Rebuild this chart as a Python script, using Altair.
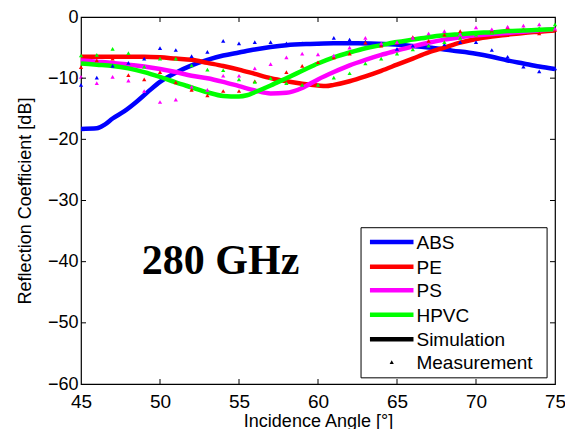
import altair as alt
import pandas as pd

materials = ["ABS", "PE", "PS", "HPVC"]
colors = ["#0000ff", "#ff0000", "#ff00ff", "#00ff00"]

# Simulation curves (x in degrees, y in dB)
abs_sim_x = [45, 46, 46.5, 47, 47.75, 48.5, 49.25, 50, 51, 52, 53, 54, 55, 56, 57, 58, 59.5, 61, 62.5, 64.2, 65.5, 67, 68.5, 70, 71, 72, 73, 74, 75]
abs_sim_y = [-18.3, -18.2, -17.6, -16.6, -15.4, -13.9, -12.2, -10.6, -9.1, -7.9, -7.0, -6.3, -5.8, -5.3, -4.9, -4.6, -4.4, -4.3, -4.3, -4.4, -4.6, -5.0, -5.5, -6.0, -6.5, -7.1, -7.6, -8.1, -8.5]

pe_sim_x = [45, 47, 49, 50, 51, 52, 53, 54, 55, 56, 57, 58, 59, 60, 60.5, 61, 62, 63, 64, 65, 66, 67, 68, 69, 70, 71, 72, 73, 74, 75]
pe_sim_y = [-6.5, -6.5, -6.5, -6.6, -6.8, -7.0, -7.5, -8.0, -8.6, -9.3, -10.0, -10.5, -10.9, -11.2, -11.3, -11.1, -10.5, -9.7, -8.8, -7.8, -6.8, -5.8, -5.0, -4.2, -3.6, -3.2, -2.9, -2.6, -2.4, -2.2]

ps_sim_x = [45, 46, 47, 48, 49, 50, 51, 52, 53, 54, 55, 56, 57, 58, 59, 60, 61, 62, 63, 64, 65, 66, 67, 68, 69, 70, 71, 72, 73, 74, 75]
ps_sim_y = [-7.1, -7.3, -7.5, -7.8, -8.1, -8.5, -9.0, -9.6, -10.0, -10.6, -11.3, -12.0, -12.5, -12.4, -11.6, -10.2, -9.0, -7.9, -7.0, -6.2, -5.5, -4.8, -4.2, -3.7, -3.3, -3.0, -2.8, -2.6, -2.4, -2.2, -2.0]

hpvc_sim_x = [45, 46, 47, 48, 49, 50, 51, 52, 53, 54, 55, 55.5, 56, 57, 58, 59, 60, 61, 62, 63, 64, 65, 66, 67, 68, 69, 70, 71, 72, 73, 74, 75]
hpvc_sim_y = [-7.6, -7.8, -8.0, -8.4, -9.0, -9.8, -10.7, -11.5, -12.3, -12.9, -13.0, -12.8, -12.3, -11.2, -10.0, -8.8, -7.6, -6.6, -5.8, -5.1, -4.6, -4.1, -3.7, -3.3, -3.0, -2.8, -2.6, -2.5, -2.3, -2.2, -2.1, -2.0]

# Measurements, one per degree from 45 to 75
meas_x = list(range(45, 76))
abs_meas = [-11.1, -9.9, -8.0, -7.5, -6.8, -5.1, -5.4, -6.4, -5.7, -3.9, -4.3, -4.1, -4.1, -4.3, -4.3, -4.4, -3.4, -3.7, -4.0, -4.5, -5.2, -4.7, -4.7, -4.5, -4.1, -4.1, -5.4, -6.5, -8.1, -8.9, -8.4]
pe_meas = [-8.2, -7.1, -6.8, -9.5, -10.2, -9.0, -10.7, -11.9, -12.8, -12.1, -12.1, -10.5, -10.0, -9.0, -8.0, -7.4, -6.6, -6.0, -4.2, -4.7, -4.2, -3.3, -3.9, -2.9, -2.3, -3.6, -2.4, -1.7, -2.0, -2.7, -2.1]
ps_meas = [-9.8, -10.8, -9.8, -10.4, -12.1, -13.9, -13.5, -11.4, -11.9, -9.6, -9.6, -8.4, -7.7, -6.6, -6.0, -6.1, -6.3, -5.0, -3.4, -4.3, -4.1, -3.4, -2.7, -2.3, -2.8, -1.7, -2.0, -1.6, -1.4, -1.2, -1.9]
hpvc_meas = [-6.3, -6.2, -5.2, -5.9, -8.1, -6.8, -6.8, -7.9, -8.6, -8.7, -10.2, -10.6, -10.0, -10.8, -11.1, -11.1, -9.9, -9.2, -7.6, -6.8, -6.0, -5.3, -4.7, -4.1, -3.4, -2.9, -2.6, -2.3, -2.0, -1.8, -1.2]

x_ticks = [45, 50, 55, 60, 65, 70, 75]
y_ticks = [0, -10, -20, -30, -40, -50, -60]
legend_labels = ["ABS", "PE", "PS", "HPVC", "Simulation", "Measurement"]
legend_colors = ["#0000ff", "#ff0000", "#ff00ff", "#00ff00", "#000000", "#000000"]
freq_label = "280 GHz"

# layout (svg kept at 557 x 421 so the page does not overflow)
SVG_W, SVG_H = 557, 421
W, H = 474, 367
PL, PT = 73, 9


def lx(page_x):
    # reference page x -> plot-relative x
    return (page_x - 83) * W / 479


def ly(page_y):
    # reference page y -> plot-relative y
    return (page_y - 14) * H / 375


sim_rows = []
for m, xs, ys in zip(materials, [abs_sim_x, pe_sim_x, ps_sim_x, hpvc_sim_x],
                     [abs_sim_y, pe_sim_y, ps_sim_y, hpvc_sim_y]):
    for i, (a, b) in enumerate(zip(xs, ys)):
        sim_rows.append({"material": m, "angle": a, "db": b, "o": i})
sim_df = pd.DataFrame(sim_rows)

meas_rows = []
for m, ys in zip(materials, [abs_meas, pe_meas, ps_meas, hpvc_meas]):
    for a, b in zip(meas_x, ys):
        meas_rows.append({"material": m, "angle": a, "db": b})
meas_df = pd.DataFrame(meas_rows)

xscale = alt.Scale(domain=[45, 75], nice=False, zero=False)
yscale = alt.Scale(domain=[-60, 0], nice=False, zero=False)
cscale = alt.Scale(domain=materials, range=colors)

xaxis = alt.Axis(values=x_ticks, tickSize=0, labelPadding=8, labelFontSize=19, labelColor="#000",
                 labelFlush=False, labelOverlap=False, domain=False, grid=False,
                 title="Incidence Angle [°]", titleFontSize=18, titleFontWeight="normal",
                 titleColor="#000", titleX=W / 2, titleY=42, titleBaseline="alphabetic", format="d")
yaxis = alt.Axis(values=y_ticks, tickSize=0, labelPadding=3, labelFontSize=18, labelColor="#000",
                 labelFlush=False, labelOverlap=False, domain=False, grid=False,
                 title="Reflection Coefficient [dB]", titleFontSize=18, titleFontWeight="normal",
                 titleColor="#000", titleX=-56, titleY=H / 2, titleAngle=-90,
                 titleBaseline="middle", titleAlign="center", format="d")

lines = alt.Chart(sim_df).mark_line(strokeWidth=4.5, interpolate="monotone").encode(
    x=alt.X("angle:Q", scale=xscale, axis=xaxis),
    y=alt.Y("db:Q", scale=yscale, axis=yaxis),
    color=alt.Color("material:N", scale=cscale, legend=None),
    order="o:Q",
)

points = alt.Chart(meas_df).mark_point(shape="triangle-up", filled=True, size=18, opacity=1).encode(
    x=alt.X("angle:Q", scale=xscale),
    y=alt.Y("db:Q", scale=yscale),
    color=alt.Color("material:N", scale=cscale, legend=None),
)

xt = pd.DataFrame({"v": x_ticks[1:-1]})
yt = pd.DataFrame({"v": y_ticks[1:-1]})
tick_layers = [
    alt.Chart(xt).mark_rule(color="#000", strokeWidth=1).encode(x=alt.X("v:Q", scale=xscale), y=alt.value(H), y2=alt.value(H - 5)),
    alt.Chart(xt).mark_rule(color="#000", strokeWidth=1).encode(x=alt.X("v:Q", scale=xscale), y=alt.value(0), y2=alt.value(5)),
    alt.Chart(yt).mark_rule(color="#000", strokeWidth=1).encode(y=alt.Y("v:Q", scale=yscale), x=alt.value(0), x2=alt.value(5)),
    alt.Chart(yt).mark_rule(color="#000", strokeWidth=1).encode(y=alt.Y("v:Q", scale=yscale), x=alt.value(W), x2=alt.value(W - 5)),
]

one = pd.DataFrame({"k": [0]})
legend_layers = [
    alt.Chart(one).mark_rect(fill="#fff", stroke="#000", strokeWidth=1).encode(
        x=alt.value(lx(366)), x2=alt.value(lx(554)), y=alt.value(ly(229.3)), y2=alt.value(ly(382.7)))
]
row_y = [244, 269.3, 293.3, 318.3, 343.3, 366.7]
for lab, col, ry in zip(legend_labels, legend_colors, row_y):
    yy = ly(ry)
    if lab != "Measurement":
        legend_layers.append(alt.Chart(one).mark_rule(color=col, strokeWidth=4.5).encode(
            x=alt.value(lx(375)), x2=alt.value(lx(419)), y=alt.value(yy)))
    else:
        legend_layers.append(alt.Chart(one).mark_point(shape="triangle-up", filled=True, size=18, color=col, opacity=1).encode(
            x=alt.value(lx(397)), y=alt.value(yy)))
    legend_layers.append(alt.Chart(pd.DataFrame({"t": [lab]})).mark_text(
        align="left", baseline="middle", fontSize=19, color="#000").encode(
        x=alt.value(lx(422)), y=alt.value(yy + 1), text="t:N"))

freq = alt.Chart(pd.DataFrame({"t": [freq_label]})).mark_text(
    font="Liberation Serif", fontWeight="bold", fontSize=42, align="center", baseline="alphabetic", color="#000"
).encode(x=alt.value(lx(224)), y=alt.value(ly(277)), text="t:N")

chart = alt.layer(lines, points, *tick_layers, *legend_layers, freq).properties(
    width=W, height=H, autosize="none",
    padding={"left": PL, "top": PT, "right": SVG_W - PL - W, "bottom": SVG_H - PT - H},
).configure(font="Liberation Sans").configure_view(stroke="#000", strokeWidth=1.2)

chart.save("out.html", embed_options={"renderer": "svg", "actions": False})
